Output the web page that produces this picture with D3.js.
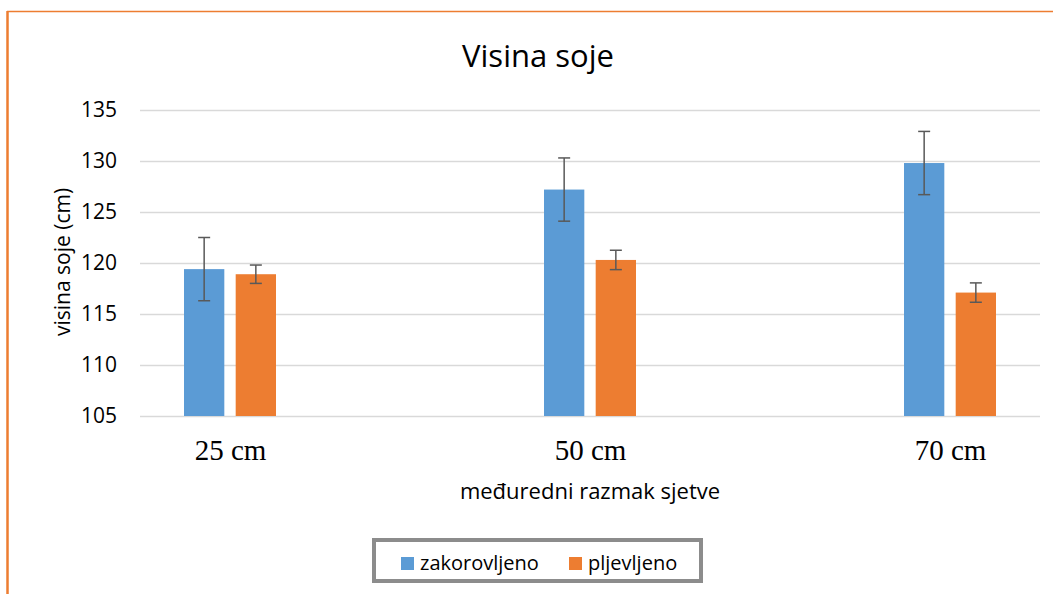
<!DOCTYPE html>
<html>
<head>
<meta charset="utf-8">
<script src="https://cdn.jsdelivr.net/npm/d3@7"></script>
<style>
  body { margin: 0; background: #fff; }
  svg text { font-family: "Open Sans", sans-serif; fill: #000; }
</style>
</head>
<body>
<div id="chart"></div>
<script>
// Chart data
const categories = ["25 cm", "50 cm", "70 cm"];
const seriesNames = ["zakorovljeno", "pljevljeno"];
const zakorovljeno = [119.4, 127.2, 129.8];
const zakorovljenoErr = [3.1, 3.1, 3.1];
const pljevljeno = [118.9, 120.3, 117.1];
const pljevljenoErr = [0.9, 0.95, 0.95];
const yTicks = [105, 110, 115, 120, 125, 130, 135];
const colors = ["#5B9BD5", "#ED7D31"];

const W = 1053, H = 594;
const svg = d3.select("#chart").append("svg")
  .attr("width", W).attr("height", H);

// orange frame (left + top only visible)
svg.append("line").attr("x1", 7).attr("x2", W).attr("y1", 11.5).attr("y2", 11.5)
  .attr("stroke", "#ED7D31").attr("stroke-width", 1.5);
svg.append("line").attr("x1", 7.5).attr("x2", 7.5).attr("y1", 11).attr("y2", H)
  .attr("stroke", "#ED7D31").attr("stroke-width", 2.5);

const plot = {left: 140, right: 1040, top: 110, bottom: 416};

const x = d3.scalePoint().domain(categories)
  .range([plot.left, plot.right]).padding(0.25);
const xSub = d3.scaleBand().domain(seriesNames)
  .range([-46, 46]).paddingInner(0.22);
const y = d3.scaleLinear().domain([105, 135])
  .range([plot.bottom, plot.top]);

// grid lines
svg.append("g")
  .attr("transform", `translate(${plot.left},0)`)
  .call(d3.axisLeft(y).tickValues(yTicks).tickSize(-(plot.right - plot.left)).tickFormat(""))
  .call(g => g.select(".domain").remove())
  .selectAll("line").attr("stroke", "#D9D9D9").attr("stroke-width", 1.5);

// y tick labels
svg.append("g")
  .attr("transform", `translate(${plot.left},0)`)
  .call(d3.axisLeft(y).tickValues(yTicks).tickSize(0).tickPadding(23))
  .call(g => g.select(".domain").remove())
  .selectAll("text")
  .style("font-size", "21px")
  .style("font-family", "'Open Sans', sans-serif")
  .attr("fill", "#000");

// bars
const seriesData = [
  {name: seriesNames[0], values: zakorovljeno, err: zakorovljenoErr, color: colors[0]},
  {name: seriesNames[1], values: pljevljeno, err: pljevljenoErr, color: colors[1]}
];

seriesData.forEach(s => {
  const rows = categories.map((c, i) => ({cat: c, v: s.values[i], e: s.err[i]}));
  const g = svg.append("g");
  g.selectAll("rect").data(rows).enter().append("rect")
    .attr("x", d => x(d.cat) + xSub(s.name))
    .attr("width", xSub.bandwidth())
    .attr("y", d => y(d.v))
    .attr("height", d => y(105) - y(d.v))
    .attr("fill", s.color);

  // error bars
  const cx = d => x(d.cat) + xSub(s.name) + xSub.bandwidth() / 2;
  g.selectAll("line.v").data(rows).enter().append("line")
    .attr("x1", cx).attr("x2", cx)
    .attr("y1", d => y(d.v + d.e)).attr("y2", d => y(d.v - d.e))
    .attr("stroke", "#595959").attr("stroke-width", 1.5);
  [1, -1].forEach(sign => {
    g.selectAll(null).data(rows).enter().append("line")
      .attr("x1", d => cx(d) - 6).attr("x2", d => cx(d) + 6)
      .attr("y1", d => y(d.v + sign * d.e)).attr("y2", d => y(d.v + sign * d.e))
      .attr("stroke", "#595959").attr("stroke-width", 1.5);
  });
});

// x category labels (serif)
svg.append("g")
  .attr("transform", `translate(0,${plot.bottom})`)
  .call(d3.axisBottom(x).tickSize(0).tickPadding(0))
  .call(g => g.select(".domain").remove())
  .selectAll("text")
  .attr("dy", null)
  .attr("y", 44)
  .style("font-family", "'Liberation Serif', 'Times New Roman', serif")
  .style("font-size", "29px")
  .attr("fill", "#000");

// title
svg.append("text")
  .attr("x", 538).attr("y", 67)
  .attr("text-anchor", "middle")
  .style("font-size", "31px")
  .text("Visina soje");

// axis titles
svg.append("text")
  .attr("x", 590).attr("y", 499)
  .attr("text-anchor", "middle")
  .style("font-size", "22px")
  .text("međuredni razmak sjetve");

svg.append("text")
  .attr("transform", `translate(70,${262}) rotate(-90)`)
  .attr("text-anchor", "middle")
  .style("font-size", "21px")
  .text("visina soje (cm)");

// legend
const legend = svg.append("g");
legend.append("rect")
  .attr("x", 374).attr("y", 540).attr("width", 327).attr("height", 41)
  .attr("fill", "#fff").attr("stroke", "#8C8C8C").attr("stroke-width", 4);
const legendX = [401, 569];
seriesData.forEach((s, i) => {
  legend.append("rect")
    .attr("x", legendX[i]).attr("y", 557).attr("width", 13).attr("height", 13)
    .attr("fill", s.color);
  legend.append("text")
    .attr("x", legendX[i] + 19).attr("y", 570)
    .style("font-size", "20px")
    .text(s.name);
});
</script>
</body>
</html>
